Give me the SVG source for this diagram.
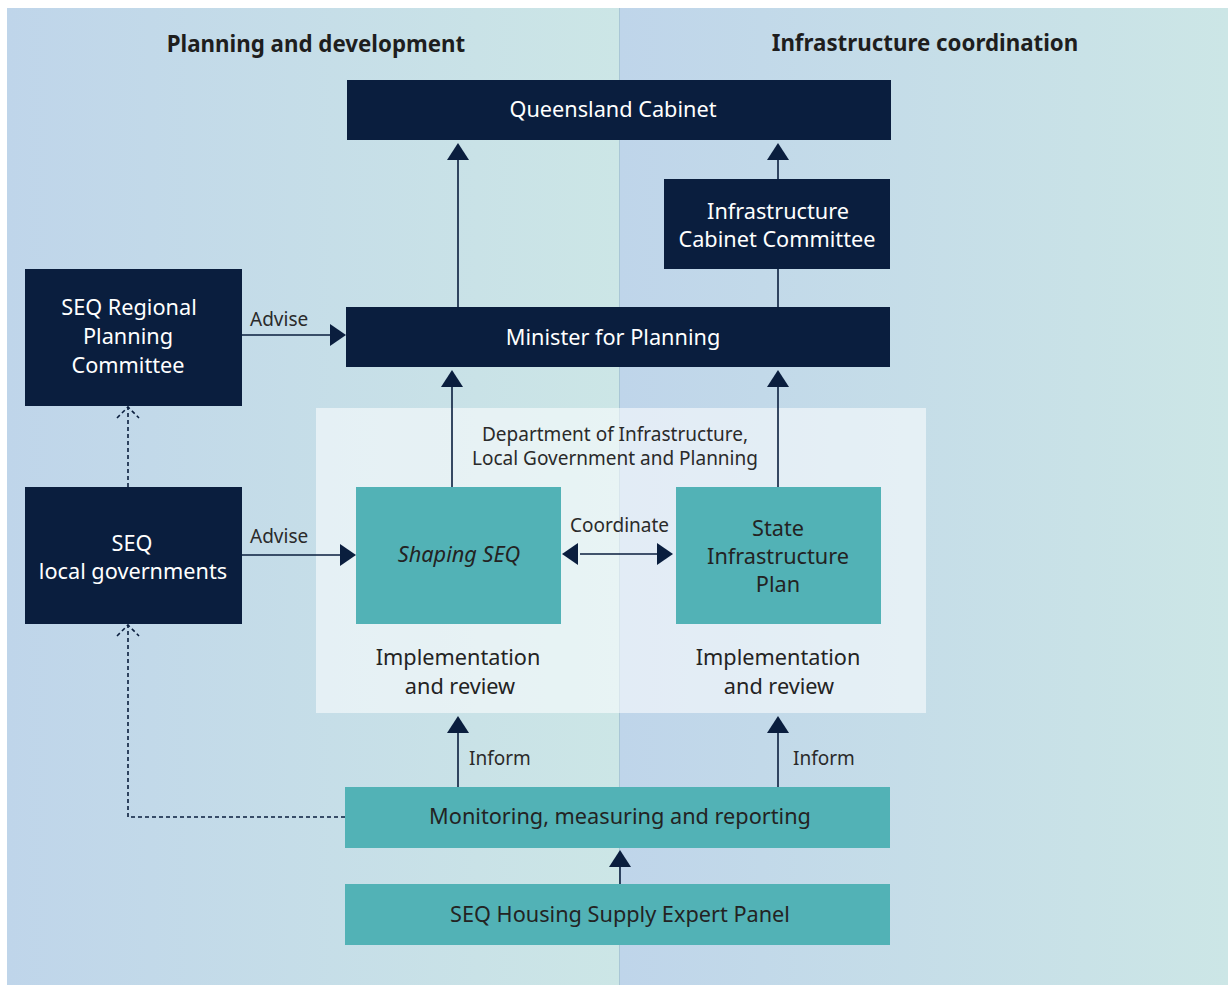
<svg xmlns="http://www.w3.org/2000/svg" width="1228" height="985" viewBox="0 0 1228 985">
<style>
.nav{fill:#0a1e3e}
.teal{fill:#52b2b6}
.wt{fill:#ffffff;font-family:"Noto Sans",sans-serif;font-size:21.7px;text-anchor:middle}
.dt{fill:#232323;font-family:"Noto Sans",sans-serif;font-size:21.7px;text-anchor:middle}
.lb{fill:#2a2a2a;font-family:"Noto Sans",sans-serif;font-size:19px}
.hd{fill:#1e1e1e;font-family:"Noto Sans",sans-serif;font-size:22.3px;font-weight:bold;text-anchor:middle}
.ln{stroke:#0a1e3e;stroke-width:1.6;fill:none}
.ds{stroke:#0a1e3e;stroke-width:1.6;fill:none;stroke-dasharray:4 3}
</style>
<defs>
<linearGradient id="bg" x1="0" y1="0" x2="1" y2="0">
<stop offset="0" stop-color="#bfd5ea"/>
<stop offset="1" stop-color="#cce6e6"/>
</linearGradient>
</defs>
<g id="background">
<rect x="7" y="8" width="613" height="977" fill="url(#bg)"/>
<rect x="620" y="8" width="608" height="977" fill="url(#bg)"/>
<line x1="619.5" y1="8" x2="619.5" y2="985" stroke="#a9c6d6" stroke-width="1"/>
<rect x="316" y="408" width="610" height="305" fill="#ffffff" fill-opacity="0.55"/>
<text class="hd" x="316" y="52">Planning and development</text>
<text class="hd" x="925" y="51">Infrastructure coordination</text>
</g>
<g id="connectors">
<path class="ln" d="M458,307 V160"/>
<path d="M447,160 L458,143 L469,160 Z" fill="#0a1e3e"/>
<path class="ln" d="M778,307 V160"/>
<path d="M767,160 L778,143 L789,160 Z" fill="#0a1e3e"/>
<path class="ln" d="M452,487 V387"/>
<path d="M441,387 L452,370 L463,387 Z" fill="#0a1e3e"/>
<path class="ln" d="M778,487 V387"/>
<path d="M767,387 L778,370 L789,387 Z" fill="#0a1e3e"/>
<path class="ln" d="M241,335 H330"/>
<path d="M330,324 L346,335 L330,346 Z" fill="#0a1e3e"/>
<path class="ln" d="M241,555 H340"/>
<path d="M340,544 L356,555 L340,566 Z" fill="#0a1e3e"/>
<path class="ln" d="M580,554 H657"/>
<path d="M578,543 L562,554 L578,565 Z" fill="#0a1e3e"/>
<path d="M657,543 L673,554 L657,565 Z" fill="#0a1e3e"/>
<path class="ln" d="M458,787 V733"/>
<path d="M447,733 L458,716 L469,733 Z" fill="#0a1e3e"/>
<path class="ln" d="M778,787 V733"/>
<path d="M767,733 L778,716 L789,733 Z" fill="#0a1e3e"/>
<path class="ln" d="M620,884 V867"/>
<path d="M609,867 L620,850 L631,867 Z" fill="#0a1e3e"/>
<path class="ds" d="M128,487 V408"/>
<path class="ds" d="M117,418 L128,407 L139,418"/>
<path class="ds" d="M345,817 H128 V626"/>
<path class="ds" d="M117,636 L128,625 L139,636"/>
<text class="lb" x="250" y="326">Advise</text>
<text class="lb" x="250" y="543">Advise</text>
<text class="lb" x="570" y="532">Coordinate</text>
<text class="lb" x="469" y="765">Inform</text>
<text class="lb" x="793" y="765">Inform</text>
</g>
<g id="queensland-cabinet">
<rect class="nav" x="347" y="80" width="544" height="60"/>
<text class="wt" x="613" y="117">Queensland Cabinet</text>
</g>
<g id="infrastructure-cabinet-committee">
<rect class="nav" x="664" y="179" width="226" height="90"/>
<text class="wt" x="778" y="219">Infrastructure</text>
<text class="wt" x="777" y="247">Cabinet Committee</text>
</g>
<g id="minister-for-planning">
<rect class="nav" x="346" y="307" width="544" height="60"/>
<text class="wt" x="613" y="345">Minister for Planning</text>
</g>
<g id="seq-regional-planning-committee">
<rect class="nav" x="25" y="269" width="217" height="137"/>
<text class="wt" x="129" y="315">SEQ Regional</text>
<text class="wt" x="128" y="344">Planning</text>
<text class="wt" x="128" y="373">Committee</text>
</g>
<g id="seq-local-governments">
<rect class="nav" x="25" y="487" width="217" height="137"/>
<text class="wt" x="132" y="551">SEQ</text>
<text class="wt" x="133" y="579">local governments</text>
</g>
<g id="department">
<text class="lb" x="615" y="441" text-anchor="middle">Department of Infrastructure,</text>
<text class="lb" x="615" y="465" text-anchor="middle">Local Government and Planning</text>
<text class="dt" x="458" y="665">Implementation</text>
<text class="dt" x="460" y="694">and review</text>
<text class="dt" x="778" y="665">Implementation</text>
<text class="dt" x="779" y="694">and review</text>
</g>
<g id="shaping-seq">
<rect class="teal" x="356" y="487" width="205" height="137"/>
<text class="dt" x="459" y="562" font-style="italic">Shaping SEQ</text>
</g>
<g id="state-infrastructure-plan">
<rect class="teal" x="676" y="487" width="205" height="137"/>
<text class="dt" x="778" y="536">State</text>
<text class="dt" x="778" y="564">Infrastructure</text>
<text class="dt" x="778" y="592">Plan</text>
</g>
<g id="monitoring">
<rect class="teal" x="345" y="787" width="545" height="61"/>
<text class="dt" x="620" y="824">Monitoring, measuring and reporting</text>
</g>
<g id="housing-panel">
<rect class="teal" x="345" y="884" width="545" height="61"/>
<text class="dt" x="620" y="922">SEQ Housing Supply Expert Panel</text>
</g>
</svg>
